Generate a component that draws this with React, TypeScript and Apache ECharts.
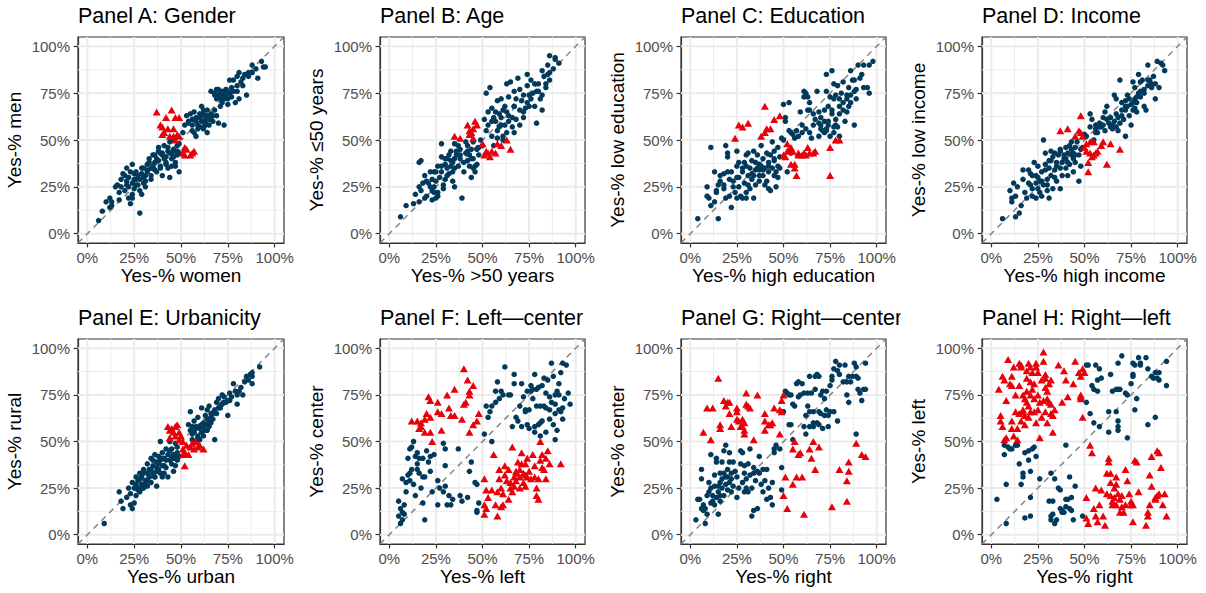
import React, { useEffect, useRef } from "react";
import * as echarts from "echarts";

const FONT = "'Liberation Sans', Arial, Helvetica, sans-serif";

const tickValues = [0, 25, 50, 75, 100];
const minorValues = [12.5, 37.5, 62.5, 87.5];

const panelTitles = [
  "Panel A: Gender", "Panel B: Age", "Panel C: Education", "Panel D: Income",
  "Panel E: Urbanicity", "Panel F: Left\u2014center", "Panel G: Right\u2014center", "Panel H: Right\u2014left",
];
const xNames = [
  "Yes-% women", "Yes-% >50 years", "Yes-% high education", "Yes-% high income",
  "Yes-% urban", "Yes-% left", "Yes-% right", "Yes-% right",
];
const yNames = [
  "Yes-% men", "Yes-% \u226450 years", "Yes-% low education", "Yes-% low income",
  "Yes-% rural", "Yes-% center", "Yes-% center", "Yes-% left",
];

const genderDark = [
  [6,7],[8,12],[10,17],[13,17],[12,19],[13,15],[12,14],[15,25],[16,26],[17,22],[17,18],[18,29],[19,32],[21,35],[21,28],[22,25],[22,19],[23,16],[24,19],[24,21],[24,37],[25,29],[26,26],[27,31],[28,23],[28,11],[29,21],[30,27],[32,33],[31,25],[32,37],[34,29],[35,42],[35,35],[37,33],[37,40],[38,46],[39,36],[40,42],[40,31],[41,47],[42,38],[43,44],[43,35],[44,49],[44,30],[45,40],[46,45],[47,36],[48,47],[48,42],[49,33],[49,43],[46,50],
  [22,30],[24,27],[26,33],[28,29],[30,35],[32,34],[33,38],[35,36],[36,42],[38,44],[39,35],[41,40],[42,37],[44,43],[46,41],[47,38],[48,44],[18,25],[20,31],[21,26],[25,24],[27,26],[29,32],[31,28],[34,31],[36,34],[40,43],[43,46],[45,36],[49,48],
  [23,33],[26,29],[29,35],[31,31],[33,40],[34,35],[36,38],[38,39],[39,43],[42,41],[45,43],[47,44],[20,23],[25,32],[30,30],
  [51,54],[52,58],[53,63],[54,59],[55,64],[56,55],[56,61],[57,65],[58,52],[59,58],[60,62],[61,68],[62,56],[62,64],[63,58],[64,54],[64,66],[65,61],[66,76],[67,63],[68,74],[69,77],[69,72],[70,59],[71,75],[72,73],[72,70],[73,58],[74,77],[75,72],[76,82],[77,78],[78,82],[79,70],[80,84],[80,76],[81,86],[81,72],[83,79],[84,85],[85,74],[86,86],[88,90],[90,88],[91,83],[93,92],[94,89],[95,89],
  [56,58],[58,62],[59,56],[61,60],[62,57],[63,61],[64,63],[65,58],[66,64],[67,60],[68,66],[69,63],[70,74],[71,68],[72,76],[73,72],[74,74],[75,69],[76,75],[77,73],[78,76],[80,79],[82,81],[83,83],[86,84],[88,86],[60,64],[62,66],[57,54],[54,60],
  [58,60],[60,57],[61,63],[63,59],[66,61],[68,75],[70,77],[71,72],[73,75],[75,76],
];
const genderRed = [
  [37,65],[45,66],[42,62],[47,62],[49,62],[39,58],[40,57],[43,56],[46,56],[40,53],[41,54],[44,52],[46,52],[48,53],[49,52],[47,50],[52,46],[53,45],[51,43],[52,42],[55,42],[57,44],[56,43],
];

const ageDark = [
  [6,9],[9,15],[13,16],[14,21],[16,25],[16,38],[17,39],[16,17],[17,23],[18,27],[19,19],[19,31],[20,20],[21,27],[22,33],[23,23],[23,18],[23,29],[24,33],[24,25],[25,19],[25,28],[26,36],[26,22],[28,41],[28,33],[28,48],[29,26],[30,37],[30,29],[31,40],[31,35],[32,42],[32,32],[33,39],[33,44],[34,28],[34,38],[35,25],[35,48],[35,35],[36,42],[37,36],[37,47],[38,45],[38,40],[39,19],[40,33],[41,43],[41,49],[42,39],[42,47],[43,42],[43,36],[44,30],[44,45],[45,35],[45,49],[45,40],[46,33],[47,45],[47,37],[48,42],[49,50],
  [20,28],[22,25],[25,33],[27,30],[28,36],[30,40],[33,36],[35,40],[36,44],[38,42],[40,38],[42,44],[44,40],[46,36],[48,46],[24,22],[26,20],[29,24],[31,31],[34,33],
  [50,47],[51,61],[52,75],[52,55],[53,65],[53,58],[54,78],[55,67],[55,52],[56,62],[56,47],[57,60],[58,71],[58,51],[59,64],[59,57],[60,72],[60,62],[61,50],[61,66],[62,58],[63,80],[63,54],[64,73],[64,63],[65,81],[66,57],[67,68],[67,76],[67,54],[68,61],[69,83],[70,77],[70,58],[71,71],[72,65],[72,74],[73,67],[74,79],[74,85],[75,68],[75,74],[76,82],[77,75],[78,80],[79,59],[79,76],[80,80],[81,72],[82,87],[82,66],[83,84],[84,78],[85,90],[85,85],[86,86],[86,95],[88,88],[89,94],[89,93],[91,91],
  [55,60],[57,65],[60,58],[62,68],[64,60],[66,62],[68,72],[70,66],[72,62],[74,70],[76,72],[78,68],[80,76],[82,74],[84,80],[86,82],[58,55],[61,52],[63,65],[67,68],
];
const ageRed = [
  [35,52],[38,51],[42,58],[43,55],[43,53],[44,54],[45,56],[46,60],[47,58],[45,51],[50,48],[52,44],[53,43],[54,41],[55,44],[57,43],[58,48],[60,47],[63,50],[65,45],[51,42],
];

const educationDark = [
  [4,8],[9,20],[9,25],[10,19],[11,15],[11,46],[13,17],[13,33],[14,23],[14,22],[15,8],[16,31],[16,28],[18,26],[18,32],[19,19],[19,47],[20,43],[20,41],[21,29],[21,20],[22,14],[22,33],[23,25],[24,22],[25,30],[25,19],[25,44],[26,25],[26,38],[27,20],[28,33],[28,19],[29,38],[29,27],[30,42],[30,19],[30,22],[31,31],[31,43],[32,24],[32,35],[33,29],[33,39],[34,19],[34,31],[34,44],[35,34],[35,26],[36,35],[36,42],[37,31],[37,37],[37,34],[38,47],[38,36],[39,31],[39,40],[40,26],[40,35],[41,43],[41,28],[42,38],[42,33],[42,24],[43,23],[43,42],[44,49],[44,35],[45,44],[45,31],[45,39],[46,33],[46,25],[47,46],[47,36],[48,41],[48,35],
  [20,33],[23,28],[26,30],[28,35],[31,26],[33,32],[35,38],[37,28],[39,34],[42,36],[45,40],[47,30],[30,36],[25,36],[18,24],[15,26],
  [49,51],[50,69],[50,50],[51,62],[51,60],[52,33],[53,70],[53,55],[54,54],[54,43],[55,53],[56,51],[57,55],[58,52],[59,65],[60,54],[61,76],[61,73],[62,75],[62,56],[63,66],[63,73],[64,54],[64,66],[65,51],[66,64],[67,61],[68,76],[69,65],[69,59],[70,56],[70,58],[71,55],[72,54],[72,60],[73,76],[73,55],[73,85],[74,68],[74,58],[75,73],[75,52],[76,87],[76,66],[77,57],[77,72],[77,80],[78,61],[78,74],[79,57],[79,79],[80,68],[80,64],[80,52],[81,75],[82,70],[82,81],[83,60],[84,72],[84,65],[85,78],[85,68],[86,87],[86,74],[87,82],[88,58],[88,82],[89,72],[89,77],[90,90],[91,83],[92,85],[93,78],[93,90],[95,78],[96,90],[96,75],[98,92],
  [70,62],[72,66],[74,60],[76,64],[78,58],[80,72],[82,66],[84,74],[86,70],[88,76],[73,56],[77,54],[69,52],[66,58],[60,58],[64,70],
];
const educationRed = [
  [24,51],[26,58],[28,57],[31,59],[40,68],[38,52],[40,54],[41,56],[43,56],[45,61],[48,63],[50,42],[51,41],[52,48],[52,44],[53,45],[54,46],[54,37],[55,44],[56,35],[56,37],[57,31],[58,43],[58,42],[60,42],[61,43],[62,42],[63,46],[64,43],[66,43],[67,44],[75,46],[75,31],[78,50],[80,50],
];

const incomeDark = [
  [6,8],[10,23],[11,17],[11,19],[12,27],[13,20],[13,9],[14,25],[15,11],[16,15],[17,29],[17,34],[18,22],[19,19],[20,34],[21,32],[21,26],[22,31],[22,20],[23,38],[24,27],[24,19],[24,31],[25,24],[25,36],[26,28],[27,20],[27,33],[28,50],[28,26],[29,37],[29,43],[30,29],[30,23],[31,19],[31,35],[32,44],[32,31],[32,39],[33,24],[34,34],[34,43],[35,36],[35,28],[36,42],[37,35],[37,45],[37,24],[38,38],[38,31],[39,42],[40,46],[40,35],[40,40],[41,31],[41,43],[42,47],[42,37],[43,42],[43,49],[44,40],[44,33],[44,43],[45,46],[45,38],[46,49],[47,42],[47,28],[48,45],[48,36],[49,46],
  [20,27],[22,24],[25,30],[27,28],[29,34],[31,39],[33,41],[35,38],[37,44],[39,40],[41,38],[43,45],[45,42],[26,22],[30,26],[34,30],
  [50,53],[51,52],[53,64],[53,57],[54,61],[55,50],[56,58],[56,56],[57,54],[58,59],[59,57],[60,62],[61,65],[61,55],[62,68],[63,59],[64,57],[64,62],[65,58],[66,74],[67,64],[67,72],[68,55],[69,59],[69,82],[70,70],[70,66],[71,61],[72,52],[72,71],[72,68],[73,74],[74,63],[75,69],[75,58],[76,81],[76,66],[77,72],[77,78],[78,65],[78,70],[79,85],[79,75],[80,81],[80,73],[81,82],[82,77],[82,68],[83,66],[84,90],[84,79],[85,82],[86,78],[87,84],[88,80],[88,72],[89,92],[90,78],[91,91],[92,90],[93,87],
  [60,58],[62,61],[64,58],[66,60],[68,62],[70,63],[72,66],[74,72],[76,70],[78,73],[80,76],[82,75],[84,82],[86,80],[58,57],[56,54],[65,56],[67,57],[73,68],[77,67],
];
const incomeRed = [
  [37,55],[41,56],[45,52],[47,55],[48,63],[48,54],[49,52],[50,46],[51,44],[51,48],[52,38],[52,33],[53,43],[53,49],[54,41],[55,49],[56,43],[57,44],[59,47],[60,49],[62,37],[64,48],[69,45],[55,42],
];

const urbanDark = [
  [9,6],[17,23],[18,18],[19,14],[21,20],[22,25],[23,16],[23,22],[24,14],[24,28],[25,25],[25,17],[26,31],[26,21],[27,25],[27,29],[28,33],[28,23],[29,27],[29,31],[30,35],[30,25],[31,29],[32,33],[32,38],[32,26],[33,31],[33,35],[34,41],[34,28],[35,33],[35,37],[36,43],[36,31],[37,34],[37,39],[37,26],[38,42],[38,35],[39,50],[39,40],[40,31],[40,37],[40,44],[41,33],[41,41],[42,46],[42,36],[43,43],[43,31],[44,40],[44,50],[45,42],[45,38],[45,46],[46,34],[46,41],[47,49],[47,37],[48,44],[48,40],[48,47],[49,42],
  [26,27],[28,30],[30,33],[32,29],[34,35],[36,31],[38,38],[40,41],[42,40],[44,45],[46,43],[48,42],[33,31],[35,40],[37,36],[39,33],[41,37],[31,27],[29,25],[27,24],
  [54,59],[55,56],[55,66],[56,54],[56,58],[56,51],[57,61],[57,55],[58,50],[58,58],[59,53],[59,63],[60,57],[60,51],[61,59],[61,55],[61,68],[62,58],[62,53],[63,64],[63,59],[64,67],[64,56],[65,62],[65,58],[65,69],[66,65],[66,60],[67,65],[68,51],[68,67],[69,71],[70,73],[71,68],[72,75],[72,70],[73,74],[74,71],[75,64],[76,76],[76,72],[78,81],[79,77],[80,75],[80,70],[81,77],[82,79],[83,75],[84,82],[85,85],[86,83],[87,86],[88,87],[88,81],[88,85],[92,90],
  [56,55],[58,57],[60,58],[62,60],[64,62],[66,63],[68,66],[70,68],[59,52],[61,55],[63,56],[65,60],[67,62],[69,65],[71,69],[73,71],[75,72],[77,74],
];
const urbanRed = [
  [43,58],[44,56],[45,57],[44,52],[46,55],[47,53],[47,58],[48,59],[49,55],[49,51],[50,53],[51,43],[51,46],[52,37],[52,44],[53,48],[54,43],[55,47],[56,49],[57,46],[58,50],[59,47],[60,48],[62,46],[51,50],
];

const leftCenterDark = [
  [5,18],[5,10],[6,6],[6,14],[7,12],[7,8],[7,30],[8,11],[8,16],[9,23],[9,28],[10,41],[10,32],[11,46],[11,33],[11,29],[12,47],[12,35],[13,27],[13,50],[14,21],[14,42],[15,38],[15,44],[15,35],[16,33],[16,41],[17,25],[18,31],[18,41],[18,17],[19,8],[19,31],[20,45],[21,39],[22,34],[22,42],[23,23],[24,43],[26,29],[26,16],[27,25],[29,23],[29,49],[30,46],[30,37],[30,26],[31,16],[32,21],[33,16],[34,19],[37,46],[38,21],[39,18],[42,20],[43,34],[44,39],[46,28],[47,27],[47,12],[47,13],[48,17],
  [51,54],[52,69],[53,63],[54,66],[55,50],[55,69],[57,71],[57,77],[58,82],[59,73],[60,77],[61,75],[62,90],[64,75],[65,75],[66,58],[67,86],[67,81],[68,63],[69,61],[70,69],[71,81],[71,58],[72,74],[73,67],[73,66],[74,77],[74,59],[75,67],[75,57],[76,77],[76,80],[77,73],[77,78],[78,86],[78,55],[78,58],[79,78],[79,69],[80,59],[80,79],[81,60],[81,69],[81,53],[82,61],[82,80],[83,69],[83,84],[84,68],[84,76],[84,55],[85,83],[86,74],[86,62],[86,67],[87,92],[87,71],[88,85],[88,59],[89,65],[89,75],[89,51],[89,70],[90,77],[90,56],[91,67],[91,75],[91,81],[92,87],[92,66],[93,62],[93,92],[93,68],[94,73],[95,91],[96,76],[97,70],
];
const leftCenterRed = [
  [12,61],[15,61],[16,57],[17,60],[17,58],[19,62],[19,55],[20,65],[21,74],[22,72],[22,55],[22,63],[23,50],[26,71],[26,66],[28,65],[28,56],[31,75],[32,68],[33,64],[35,64],[35,78],[39,62],[40,89],[40,70],[41,71],[42,83],[43,75],[43,77],[45,80],[43,55],[45,59],[47,61],[48,65],
  [51,30],[51,16],[51,11],[52,14],[52,24],[53,20],[55,24],[56,43],[57,16],[58,10],[58,23],[59,35],[59,30],[60,25],[60,15],[61,22],[61,16],[62,32],[62,37],[63,29],[64,35],[64,19],[65,28],[65,25],[66,23],[66,47],[67,31],[67,26],[68,33],[68,29],[68,34],[69,39],[70,31],[70,35],[70,25],[71,38],[71,44],[72,33],[72,28],[73,32],[73,38],[73,26],[74,41],[74,31],[75,34],[76,30],[77,43],[78,37],[78,31],[79,21],[79,25],[80,19],[80,30],[81,50],[81,40],[82,36],[82,43],[83,35],[84,41],[84,30],[85,45],[86,38],[92,38],
];

const rightCenterDark = [
  [3,8],[4,19],[5,19],[6,30],[6,35],[6,14],[7,16],[7,13],[8,6],[8,14],[9,11],[9,21],[10,28],[10,23],[11,25],[11,43],[11,17],[12,18],[12,21],[13,26],[13,16],[13,32],[14,39],[14,41],[14,20],[15,11],[15,26],[15,23],[16,33],[16,21],[16,28],[16,18],[17,30],[17,25],[17,39],[18,33],[18,45],[18,21],[19,31],[19,27],[19,48],[20,24],[20,35],[20,31],[21,44],[21,28],[21,39],[22,23],[22,33],[22,30],[23,39],[23,26],[24,34],[25,20],[25,31],[26,25],[27,45],[27,38],[28,28],[28,44],[29,33],[29,23],[29,37],[30,30],[30,25],[31,23],[31,38],[32,32],[32,46],[33,10],[33,25],[34,36],[34,33],[34,13],[35,29],[36,14],[36,34],[37,42],[37,33],[38,27],[39,35],[39,23],[40,29],[41,19],[41,35],[42,25],[43,20],[44,28],[44,16],[45,44],[45,46],[46,48],[48,46],[49,36],[49,24],
  [50,66],[51,77],[52,76],[53,75],[53,59],[54,75],[54,59],[55,70],[55,51],[56,69],[57,81],[58,74],[58,82],[59,75],[60,81],[61,58],[61,76],[62,54],[62,64],[63,69],[63,76],[64,66],[64,58],[64,85],[65,76],[66,60],[66,66],[66,58],[67,85],[67,78],[68,60],[68,86],[69,66],[69,59],[69,85],[70,75],[70,65],[71,57],[71,77],[72,64],[72,73],[73,67],[73,77],[74,58],[74,64],[75,66],[75,80],[76,83],[76,85],[77,66],[77,89],[78,93],[79,88],[79,61],[80,86],[80,91],[82,82],[83,91],[84,82],[84,75],[85,85],[85,71],[86,82],[87,85],[88,92],[89,90],[89,54],[89,85],[90,84],[90,78],[91,76],[92,72],[93,78],[94,92],[94,78],
];
const rightCenterRed = [
  [7,55],[9,68],[12,68],[11,51],[15,84],[16,57],[16,59],[18,72],[19,69],[20,71],[21,65],[21,71],[22,58],[25,66],[25,68],[25,62],[26,61],[27,58],[28,62],[28,58],[29,56],[29,60],[29,54],[30,70],[30,76],[31,69],[32,68],[34,51],[36,75],[40,65],[40,56],[40,61],[42,59],[43,59],[44,60],[45,68],[48,67],[48,54],[49,66],[49,72],[50,75],
  [50,21],[51,31],[52,14],[55,27],[55,46],[56,50],[57,31],[58,43],[59,44],[60,31],[61,11],[64,46],[65,41],[66,50],[67,35],[69,47],[76,15],[80,35],[84,18],[84,29],[85,34],[85,39],[89,49],[92,43],[94,42],
];

const rightLeftDark = [
  [3,19],[7,43],[7,48],[8,27],[8,6],[9,47],[10,46],[11,46],[13,48],[14,48],[15,38],[16,27],[17,33],[17,31],[18,9],[18,44],[20,45],[20,40],[21,34],[21,20],[21,10],[22,46],[23,47],[24,42],[26,30],[31,18],[32,33],[32,10],[32,8],[33,11],[33,18],[34,30],[34,6],[35,8],[36,25],[37,24],[37,14],[38,13],[38,12],[39,12],[40,48],[40,19],[40,15],[41,19],[42,14],[42,31],[43,20],[43,13],[44,8],[45,26],[49,10],
  [51,91],[51,71],[52,91],[53,65],[54,80],[55,78],[55,60],[56,91],[57,83],[57,77],[58,58],[58,89],[59,84],[63,66],[63,55],[64,86],[65,77],[67,78],[67,66],[68,78],[68,58],[68,56],[68,61],[69,78],[68,92],[70,96],[72,76],[73,75],[73,52],[75,81],[76,86],[76,85],[76,92],[77,67],[77,91],[78,73],[79,95],[80,91],[80,92],[83,95],[84,59],[84,89],[86,85],[87,84],[88,87],[88,63],[89,84],[90,87],[90,83],[94,93],[94,80],
];
const rightLeftRed = [
  [4,78],[5,64],[5,61],[6,85],[6,58],[7,83],[7,51],[8,72],[8,52],[9,94],[10,81],[11,85],[11,80],[11,61],[11,57],[12,53],[12,90],[13,66],[13,75],[14,57],[14,51],[15,92],[15,65],[15,80],[16,90],[16,91],[16,61],[17,67],[17,75],[17,66],[18,64],[18,73],[18,59],[19,84],[19,77],[19,88],[19,71],[20,92],[20,63],[20,69],[21,82],[21,75],[21,90],[21,66],[22,78],[22,87],[23,73],[23,66],[23,81],[24,92],[24,60],[24,90],[25,67],[25,75],[25,87],[26,71],[26,52],[27,63],[27,83],[28,93],[28,72],[28,98],[29,79],[29,66],[29,84],[29,86],[30,77],[30,60],[30,73],[31,81],[31,71],[32,65],[32,83],[32,70],[33,64],[33,55],[34,67],[36,91],[38,71],[39,88],[40,83],[41,74],[44,81],[45,93],[47,87],[48,75],[48,73],[48,74],[49,89],[49,63],[50,87],[48,85],
  [51,9],[51,20],[52,6],[53,48],[54,44],[55,14],[56,25],[56,10],[57,7],[58,16],[59,24],[60,10],[61,5],[62,22],[62,33],[63,39],[63,41],[64,33],[64,21],[64,28],[65,18],[65,16],[66,20],[66,25],[67,27],[67,16],[67,31],[68,22],[69,19],[69,12],[70,21],[70,15],[71,12],[72,35],[72,16],[73,29],[74,22],[75,16],[75,18],[76,16],[76,7],[77,40],[78,39],[79,23],[83,5],[84,10],[84,12],[85,16],[85,32],[86,26],[86,42],[88,19],[88,20],[89,21],[89,45],[90,22],[90,44],[91,36],[92,16],[93,22],[94,10],
];

const darkSets = [genderDark, ageDark, educationDark, incomeDark, urbanDark, leftCenterDark, rightCenterDark, rightLeftDark];
const redSets = [genderRed, ageRed, educationRed, incomeRed, urbanRed, leftCenterRed, rightCenterRed, rightLeftRed];

const gridLefts = [78, 380, 681, 982];
const gridWidths = [206, 205, 205, 205];
const gridTops = [37, 339];
const gridHeights = [206, 205];
const titleTops = [4.5, 307.3];

const DARK = "#023A5C";
const RED = "#E8000B";
const GRID = "#EBEBEB";
const BORDER = "#333333";

function buildOption() {
  const grid: any[] = [];
  const xAxis: any[] = [];
  const yAxis: any[] = [];
  const title: any[] = [];
  const series: any[] = [];
  for (let i = 0; i < 8; i++) {
    const col = i % 4;
    const row = Math.floor(i / 4);
    grid.push({
      left: gridLefts[col], top: gridTops[row], width: gridWidths[col], height: gridHeights[row],
      show: true, borderColor: BORDER, borderWidth: 1.2, backgroundColor: "#fff",
      containLabel: false, outerBoundsMode: "none",
    });
    title.push({
      text: panelTitles[i], left: gridLefts[col], top: titleTops[row], padding: 0,
      textStyle: { fontSize: 21.5, fontWeight: "normal", color: "#000", fontFamily: FONT },
    });
    const common = {
      type: "value", gridIndex: i, min: -5, max: 105,
      axisLine: { show: true, onZero: false, lineStyle: { color: BORDER, width: 1.2 } },
      axisTick: { show: true, customValues: tickValues, length: 4.4, lineStyle: { color: BORDER, width: 1.2 } },
      splitLine: { show: false },
      nameLocation: "middle",
      nameTextStyle: { fontSize: 19, color: "#000", fontFamily: FONT },
    };
    xAxis.push({
      ...common, position: "bottom", name: xNames[i], nameGap: 23,
      axisLabel: { customValues: tickValues, formatter: "{value}%", color: "#4D4D4D", fontSize: 15, margin: 6.5, fontFamily: FONT },
    });
    yAxis.push({
      ...common, position: "left", name: yNames[i], nameGap: 54,
      axisLabel: { customValues: tickValues, formatter: "{value}%", color: "#4D4D4D", fontSize: 15, margin: 8, fontFamily: FONT },
    });
    const lineBase = { type: "line", xAxisIndex: i, yAxisIndex: i, symbol: "none", silent: true, animation: false, z: 1 };
    minorValues.forEach((v) => {
      series.push({ ...lineBase, data: [[v, -5], [v, 105]], lineStyle: { color: GRID, width: 1 } });
      series.push({ ...lineBase, data: [[-5, v], [105, v]], lineStyle: { color: GRID, width: 1 } });
    });
    tickValues.forEach((v) => {
      series.push({ ...lineBase, data: [[v, -5], [v, 105]], lineStyle: { color: GRID, width: 2 } });
      series.push({ ...lineBase, data: [[-5, v], [105, v]], lineStyle: { color: GRID, width: 2 } });
    });
    series.push({
      ...lineBase, z: 2, data: [[-5, -5], [105, 105]],
      lineStyle: { color: "#7F7F7F", width: 1.4, type: [6, 5] },
    });
    series.push({
      type: "scatter", xAxisIndex: i, yAxisIndex: i, data: darkSets[i], symbol: "circle", symbolSize: 5.5,
      itemStyle: { color: DARK, opacity: 1 }, z: 3, silent: true, animation: false,
    });
    series.push({
      type: "scatter", xAxisIndex: i, yAxisIndex: i, data: redSets[i], symbol: "triangle", symbolSize: [8, 7],
      itemStyle: { color: RED, opacity: 1 }, z: 4, silent: true, animation: false,
    });
  }
  return {
    animation: false,
    backgroundColor: "#fff",
    textStyle: { fontFamily: FONT },
    title, grid, xAxis, yAxis, series,
    graphic: [
      { type: "rect", z: 100, shape: { x: 900.5, y: 298, width: 20, height: 36 }, style: { fill: "#fff" } },
    ],
  };
}

export default function App() {
  const ref = useRef<HTMLDivElement>(null);
  useEffect(() => {
    const chart = echarts.init(ref.current!, null, { renderer: "svg" });
    chart.setOption(buildOption() as any);
    return () => chart.dispose();
  }, []);
  return (
    <div
      ref={ref}
      style={{ position: "fixed", left: 0, top: 0, width: 1206, height: 593, background: "#fff" }}
    />
  );
}
